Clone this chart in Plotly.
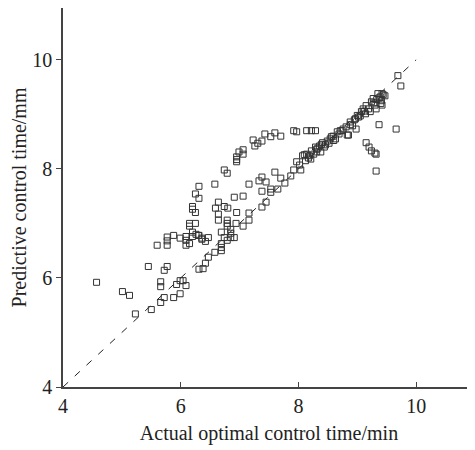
import plotly.graph_objects as go

# Actual optimal control time (min) and predicted control time
actual = [
    4.57, 5.01, 5.13, 5.23, 5.50, 5.45, 5.72, 5.77, 5.66, 5.66, 5.72, 5.66, 5.88, 5.99, 5.93, 5.99, 6.04, 6.09,
    6.31, 6.38, 6.42,
    5.60, 5.77, 5.77, 5.77, 5.88, 5.99, 6.09, 6.09, 6.09, 6.15, 6.20, 6.20, 6.26, 6.31, 6.36, 6.15, 6.25, 6.15,
    6.30, 6.36, 6.42, 6.47,
    6.31, 6.58, 6.25, 6.31, 6.20, 6.20, 6.25, 6.64, 6.59, 6.64, 6.64, 6.74, 6.80, 6.95, 6.79, 6.79, 6.79, 6.94,
    7.06, 6.85, 6.85, 6.85, 6.69, 6.74, 6.79, 6.91, 6.91, 7.06, 7.16, 7.33, 7.38, 7.45, 7.38, 7.16, 7.16, 7.38,
    7.45, 7.60, 7.53, 7.53, 7.65, 7.70, 7.77,
    6.47, 6.58, 6.69, 6.69, 6.69,
    6.74, 6.79, 6.95, 6.95, 6.95, 6.99, 7.06, 7.06, 7.23, 7.26, 7.31, 7.38, 7.43, 7.53, 7.60, 7.70, 7.92, 7.97,
    8.14, 8.22, 8.29,
    7.87, 7.92, 7.97, 8.04, 8.07, 8.14, 8.21, 8.22, 8.29, 8.31, 8.36, 8.39, 8.46, 8.49, 8.54, 8.56, 8.59, 8.63,
    8.66, 8.71, 8.76, 8.81, 8.83, 8.85, 8.88, 8.88, 8.92, 8.97, 8.98, 9.02, 9.05, 9.07, 9.10, 9.14, 9.15, 9.19,
    9.22, 9.24, 9.27, 9.30, 9.32, 9.35, 9.39, 9.41, 9.42, 9.47, 9.42, 8.19, 8.26, 8.31, 8.38, 8.41, 8.02, 8.12,
    8.10, 8.17, 8.33, 8.44, 8.52, 8.60, 8.69, 8.74, 8.95, 9.00, 9.12, 9.28, 9.33, 9.37, 9.40, 9.44,
    9.15, 9.20, 9.24, 9.30, 9.32, 9.32, 9.37, 9.66, 9.69, 9.74,
]
predicted = [
    5.92, 5.75, 5.68, 5.34, 5.42, 6.21, 6.14, 6.21, 5.93, 5.84, 5.64, 5.55, 5.64, 5.71, 5.88, 5.95, 5.95, 5.86,
    6.16, 6.17, 6.27,
    6.60, 6.60, 6.68, 6.75, 6.78, 6.73, 6.76, 6.69, 6.60, 6.63, 6.84, 6.76, 6.80, 6.78, 6.73, 7.00, 7.00, 6.95,
    6.78, 6.71, 6.67, 6.74,
    7.68, 7.72, 7.54, 7.46, 7.31, 7.26, 7.20, 7.39, 7.28, 7.17, 7.06, 7.31, 7.28, 7.20, 7.06, 7.00, 6.95, 7.00,
    6.95, 6.89, 6.82, 6.74, 6.84, 6.74, 6.69, 6.74, 7.48, 7.50, 7.72, 7.78, 7.85, 7.76, 7.59, 7.06, 7.19, 7.30,
    7.39, 7.94, 7.63, 7.57, 7.63, 7.83, 7.74,
    6.38, 6.47, 6.50, 6.56, 6.63,
    7.98, 7.92, 8.22, 8.17, 8.13, 8.31, 8.27, 8.35, 8.53, 8.42, 8.47, 8.51, 8.64, 8.59, 8.66, 8.60, 8.70, 8.68,
    8.70, 8.70, 8.70,
    7.87, 7.98, 8.13, 7.98, 8.24, 8.27, 8.18, 8.33, 8.40, 8.31, 8.42, 8.45, 8.44, 8.51, 8.55, 8.59, 8.60, 8.55,
    8.68, 8.70, 8.73, 8.77, 8.62, 8.62, 8.81, 8.86, 8.79, 8.92, 8.73, 8.95, 8.97, 9.05, 9.10, 9.01, 9.16, 9.10,
    9.05, 9.23, 9.29, 9.17, 9.10, 9.38, 9.32, 9.25, 9.17, 9.34, 9.38, 8.24, 8.27, 8.36, 8.31, 8.48, 8.07, 8.15,
    8.26, 8.20, 8.38, 8.40, 8.47, 8.52, 8.64, 8.70, 8.90, 8.98, 9.06, 9.21, 9.27, 9.30, 9.20, 9.36,
    8.48, 8.40, 8.33, 8.29, 8.27, 7.96, 8.81, 8.73, 9.71, 9.52,
]

line_x = [4, 10]
line_y = [4, 10]

x_ticks = [4, 6, 8, 10]
y_ticks = [4, 6, 8, 10]

fig = go.Figure()
fig.add_trace(go.Scatter(
    x=line_x, y=line_y, mode="lines",
    line=dict(color="#222222", width=1, dash="7px,9px"),
    showlegend=False, hoverinfo="skip",
))
fig.add_trace(go.Scatter(
    x=actual, y=predicted, mode="markers",
    marker=dict(symbol="square-open", size=6, color="#333333", line=dict(width=1, color="#333333")),
    showlegend=False,
))

font = "Liberation Serif, Times New Roman, serif"
fig.update_layout(
    width=475, height=450,
    margin=dict(l=55, r=8, t=0, b=71),
    paper_bgcolor="white", plot_bgcolor="white",
    font=dict(family=font, size=18, color="#222222"),
    xaxis=dict(
        range=[4, 11], tickvals=x_ticks, ticktext=[str(v) for v in x_ticks],
        showgrid=False, zeroline=False, showline=True, linecolor="#444444", linewidth=1.5,
        ticks="inside", ticklen=5, tickcolor="#444444", tickfont=dict(size=20),
        title=dict(text="Actual optimal control time/min", font=dict(size=20), standoff=10),
    ),
    yaxis=dict(
        range=[4, 10.95], tickvals=y_ticks, ticktext=[str(v) for v in y_ticks],
        showgrid=False, zeroline=False, showline=True, linecolor="#444444", linewidth=1.5,
        ticks="outside", ticklen=5, tickcolor="#444444", tickfont=dict(size=20),
        title=dict(text="Predictive control time/mm", font=dict(size=20), standoff=4),
    ),
)
fig.write_html("out.html")
